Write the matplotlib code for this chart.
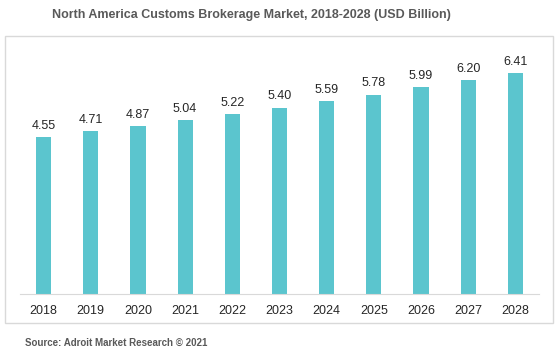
import matplotlib.pyplot as plt
from matplotlib.patches import Rectangle
from matplotlib import font_manager

years = ['2018', '2019', '2020', '2021', '2022', '2023', '2024', '2025', '2026', '2027', '2028']
values = [4.55, 4.71, 4.87, 5.04, 5.22, 5.40, 5.59, 5.78, 5.99, 6.20, 6.41]

BAR_COLOR = '#5BC5CE'
W, H = 559, 353

plt.rcParams['font.family'] = ['Liberation Sans', 'DejaVu Sans']

names = set(f.name for f in font_manager.fontManager.ttflist)
narrow = 'Liberation Sans Narrow' if 'Liberation Sans Narrow' in names else 'Liberation Sans'

fig = plt.figure(figsize=(W / 100, H / 100), dpi=100)

# light frame around the plot area
fig.patches.append(Rectangle((5 / W, 1 - 323 / H), 548 / W, 287 / H,
                             transform=fig.transFigure, fill=False,
                             edgecolor='#D9D9D9', linewidth=1.0))

ax = fig.add_axes([20 / W, 1 - 294 / H, 519 / W, 254 / H])
x = range(len(years))
bars = ax.bar(x, values, width=0.32, color=BAR_COLOR)

for xi, v in zip(x, values):
    ax.text(xi, v + 0.15, '%.2f' % v, ha='center', va='bottom',
            fontsize=9, color='#262626')

ax.set_xlim(-0.5, len(years) - 0.5)
ax.set_ylim(0, 7.36)
ax.set_xticks(list(x))
ax.set_xticklabels(years, fontsize=9, color='#262626')
ax.tick_params(axis='x', length=0, pad=8)
ax.set_yticks([])
for s in ['top', 'right', 'left']:
    ax.spines[s].set_visible(False)
ax.spines['bottom'].set_color('#D9D9D9')
ax.patch.set_alpha(0)

title_size = 12 if narrow != 'Liberation Sans' else 9
fig.text(251 / W, 1 - 15 / H, 'North America Customs Brokerage Market, 2018-2028 (USD Billion)',
         ha='center', va='center', fontsize=title_size, fontweight='bold',
         color='#595959', family=narrow)
fig.text(25 / W, 1 - 343 / H, 'Source: Adroit Market Research \u00a9 2021',
         ha='left', va='center', fontsize=7, fontweight='bold', color='#595959')

fig.savefig('out.png', dpi=100)
